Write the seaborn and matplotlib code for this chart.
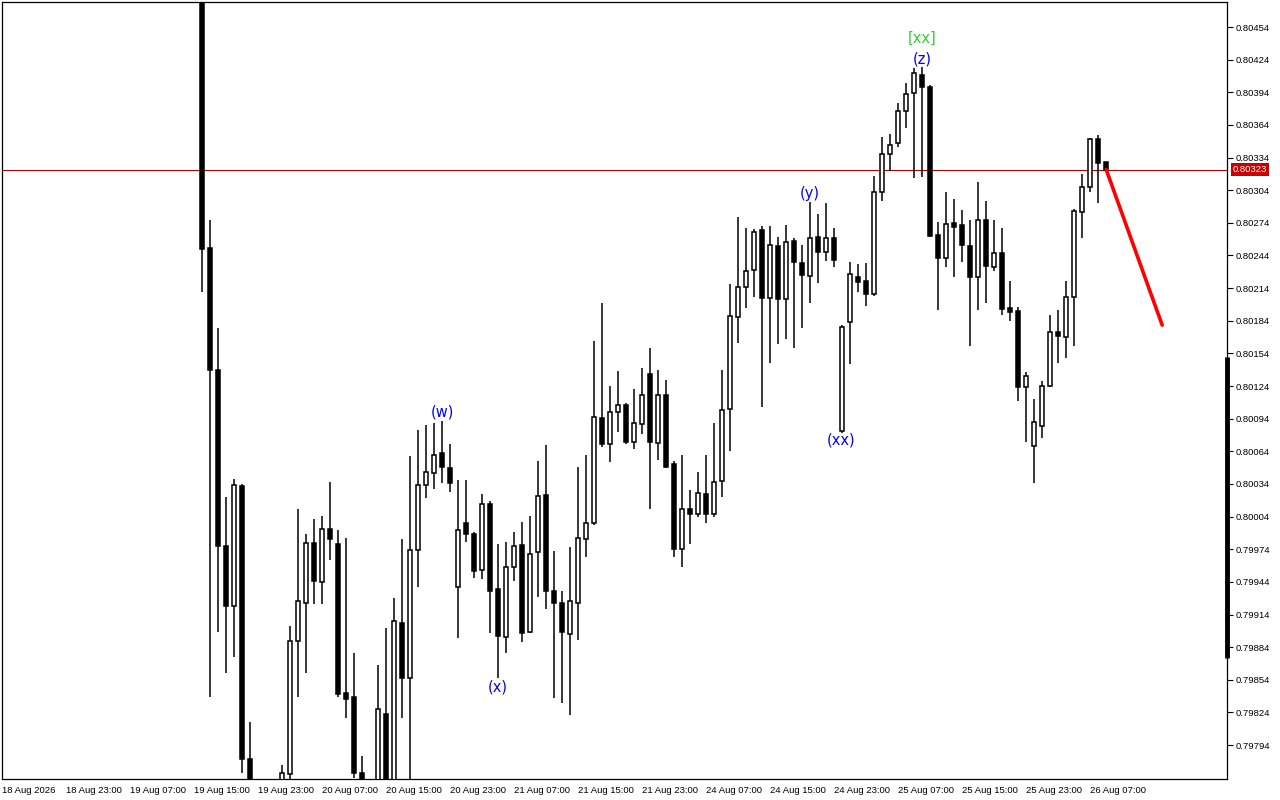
import matplotlib
matplotlib.use("Agg")
import matplotlib.pyplot as plt
import matplotlib.transforms as mtransforms
import numpy as np
import pandas as pd
import seaborn as sns

# hourly bars, index 0 = 18 Aug 2026 15:00 (earlier bars are above the visible range)
first_bar = 25
opens = [0.80520, 0.80251, 0.80139, 0.79977, 0.79922, 0.80032, 0.79781, 0.79720, 0.79700, 0.79725,
         0.79740, 0.79767, 0.79890, 0.79925, 0.79980, 0.79944, 0.79993, 0.79979, 0.79842, 0.79838,
         0.79768, 0.79745, 0.79735, 0.79823, 0.79750, 0.79906, 0.79856, 0.79973, 0.80033, 0.80044,
         0.80062, 0.80049, 0.79939, 0.79998, 0.79988, 0.79955, 0.80016, 0.79937, 0.79893, 0.79958,
         0.79978, 0.79898, 0.79971, 0.80024, 0.79936, 0.79925, 0.79896, 0.79925, 0.79983, 0.79998,
         0.80095, 0.80071, 0.80100, 0.80107, 0.80073, 0.80089, 0.80135, 0.80072, 0.80116, 0.80052,
         0.79974, 0.80011, 0.80006, 0.80025, 0.80006, 0.80037, 0.80103, 0.80187, 0.80215, 0.80231,
         0.80267, 0.80205, 0.80253, 0.80204, 0.80257, 0.80237, 0.80225, 0.80261, 0.80247, 0.80260,
         0.80083, 0.80183, 0.80224, 0.80221, 0.80209, 0.80302, 0.80337, 0.80347, 0.80377, 0.80393,
         0.80410, 0.80399, 0.80263, 0.80242, 0.80274, 0.80272, 0.80253, 0.80224, 0.80277, 0.80233,
         0.80246, 0.80196, 0.80193, 0.80123, 0.80069, 0.80087, 0.80124, 0.80174, 0.80169, 0.80206,
         0.80284, 0.80307, 0.80351, 0.80330]
highs = [0.80530, 0.80277, 0.80177, 0.80022, 0.80039, 0.80034, 0.79815, 0.79745, 0.79740, 0.79755,
         0.79776, 0.79903, 0.80011, 0.79988, 0.80002, 0.80005, 0.80036, 0.79992, 0.79984, 0.79879,
         0.79784, 0.79758, 0.79868, 0.79902, 0.79929, 0.79983, 0.80060, 0.80084, 0.80088, 0.80090,
         0.80092, 0.80071, 0.80038, 0.80038, 0.79990, 0.80025, 0.80018, 0.79979, 0.79981, 0.79990,
         0.79999, 0.80005, 0.80055, 0.80070, 0.79972, 0.79936, 0.79976, 0.80050, 0.80061, 0.80165,
         0.80200, 0.80124, 0.80138, 0.80108, 0.80121, 0.80141, 0.80159, 0.80139, 0.80130, 0.80055,
         0.80061, 0.80028, 0.80045, 0.80061, 0.80090, 0.80139, 0.80218, 0.80279, 0.80269, 0.80268,
         0.80271, 0.80271, 0.80261, 0.80272, 0.80260, 0.80254, 0.80293, 0.80282, 0.80292, 0.80269,
         0.80180, 0.80238, 0.80236, 0.80237, 0.80317, 0.80353, 0.80356, 0.80384, 0.80403, 0.80416,
         0.80417, 0.80401, 0.80275, 0.80302, 0.80296, 0.80286, 0.80277, 0.80312, 0.80294, 0.80277,
         0.80269, 0.80221, 0.80197, 0.80137, 0.80112, 0.80129, 0.80189, 0.80194, 0.80221, 0.80287,
         0.80319, 0.80352, 0.80355, 0.80330]
lows = [0.80210, 0.79838, 0.79898, 0.79860, 0.79875, 0.79768, 0.79700, 0.79680, 0.79690, 0.79705,
        0.79730, 0.79755, 0.79838, 0.79860, 0.79924, 0.79924, 0.79964, 0.79838, 0.79819, 0.79764,
        0.79730, 0.79715, 0.79725, 0.79740, 0.79740, 0.79819, 0.79763, 0.79939, 0.80021, 0.80029,
        0.80035, 0.80027, 0.79892, 0.79981, 0.79948, 0.79947, 0.79897, 0.79856, 0.79879, 0.79945,
        0.79889, 0.79897, 0.79930, 0.79919, 0.79837, 0.79833, 0.79822, 0.79891, 0.79967, 0.79996,
        0.80068, 0.80054, 0.80082, 0.80071, 0.80066, 0.80080, 0.80011, 0.80056, 0.80049, 0.79967,
        0.79958, 0.79979, 0.80004, 0.79998, 0.80004, 0.80022, 0.80064, 0.80164, 0.80196, 0.80206,
        0.80105, 0.80145, 0.80163, 0.80167, 0.80159, 0.80177, 0.80200, 0.80219, 0.80239, 0.80233,
        0.80081, 0.80144, 0.80210, 0.80198, 0.80207, 0.80294, 0.80322, 0.80344, 0.80361, 0.80315,
        0.80316, 0.80261, 0.80194, 0.80233, 0.80224, 0.80238, 0.80161, 0.80194, 0.80200, 0.80230,
        0.80189, 0.80184, 0.80110, 0.80073, 0.80035, 0.80076, 0.80123, 0.80145, 0.80150, 0.80161,
        0.80260, 0.80302, 0.80292, 0.80323]
closes = [0.80250, 0.80139, 0.79977, 0.79922, 0.80033, 0.79781, 0.79720, 0.79700, 0.79725, 0.79740,
          0.79768, 0.79890, 0.79926, 0.79980, 0.79945, 0.79993, 0.79983, 0.79841, 0.79836, 0.79768,
          0.79745, 0.79735, 0.79827, 0.79750, 0.79908, 0.79856, 0.79973, 0.80033, 0.80045, 0.80061,
          0.80050, 0.80035, 0.79992, 0.79988, 0.79954, 0.80016, 0.79936, 0.79894, 0.79958, 0.79977,
          0.79897, 0.79970, 0.80023, 0.79936, 0.79925, 0.79898, 0.79926, 0.79984, 0.79998, 0.80096,
          0.80071, 0.80100, 0.80107, 0.80073, 0.80090, 0.80116, 0.80073, 0.80116, 0.80050, 0.79974,
          0.80011, 0.80006, 0.80026, 0.80006, 0.80036, 0.80102, 0.80188, 0.80215, 0.80230, 0.80266,
          0.80205, 0.80254, 0.80204, 0.80256, 0.80238, 0.80226, 0.80260, 0.80247, 0.80260, 0.80240,
          0.80178, 0.80227, 0.80220, 0.80209, 0.80302, 0.80337, 0.80346, 0.80377, 0.80392, 0.80412,
          0.80399, 0.80262, 0.80242, 0.80273, 0.80270, 0.80254, 0.80224, 0.80277, 0.80234, 0.80246,
          0.80195, 0.80192, 0.80123, 0.80133, 0.80091, 0.80124, 0.80174, 0.80170, 0.80206, 0.80285,
          0.80307, 0.80351, 0.80329, 0.80323]

time_ticks = list(range(0, 137, 8))
time_labels = ["18 Aug 2026", "18 Aug 23:00", "19 Aug 07:00", "19 Aug 15:00", "19 Aug 23:00",
               "20 Aug 07:00", "20 Aug 15:00", "20 Aug 23:00", "21 Aug 07:00", "21 Aug 15:00",
               "21 Aug 23:00", "24 Aug 07:00", "24 Aug 15:00", "24 Aug 23:00", "25 Aug 07:00",
               "25 Aug 15:00", "25 Aug 23:00", "26 Aug 07:00"]
price_ticks = [round(0.80454 - 0.0003 * k, 5) for k in range(23)]

# wave labels: (text, bar, price, colour)
wave_labels = [("(w)", 55, 0.80100, "#0000ff"), ("(x)", 61.9, 0.79847, "#0000ff"),
               ("(y)", 101, 0.80301, "#0000ff"), ("(xx)", 104.9, 0.80074, "#0000ff"),
               ("(z)", 115, 0.80425, "#0000ff"), ("[xx]", 115, 0.80444, "#33cc33")]

forecast_x = [138, 145]
forecast_y = [0.80323, 0.80180]

scroll_range = [0.79874, 0.80151]

df = pd.DataFrame({"o": opens, "h": highs, "l": lows, "c": closes})
df["x"] = np.arange(first_bar, first_bar + len(df))

sns.set_style("white")
plt.rcParams["font.family"] = ["DejaVu Sans"]

fig = plt.figure(figsize=(12.8, 8), dpi=100)
ax = fig.add_axes([2 / 1280, 21 / 800, 1225 / 1280, 777 / 800])

# wicks then bodies
ax.vlines(df["x"], df["l"], df["h"], color="black", linewidth=1.1, zorder=2)
body_bottom = np.minimum(df["o"], df["c"])
body_height = np.abs(df["c"] - df["o"])
body_color = np.where(df["c"] >= df["o"], "white", "black")
ax.bar(df["x"], body_height, bottom=body_bottom, width=0.55, color=body_color,
       edgecolor="black", linewidth=1.1, zorder=3)

# current price line
last = closes[-1]
ax.axhline(last, color="#b40000", linewidth=0.8, zorder=1)

# forecast line
sns.lineplot(x=forecast_x, y=forecast_y, ax=ax, color="#ff0000", linewidth=2.6, zorder=4)

for txt, bx, py, col in wave_labels:
    ax.text(bx, py, txt, color=col, fontsize=10.5, ha="center", va="center", zorder=5)

ax.set_xlim(0, 153.1)
ax.set_ylim(0.797628, 0.80477)

tick_font = {"family": "Liberation Sans", "size": 6.8}

ax.set_xticks(time_ticks)
ax.set_xticklabels(time_labels, fontdict=tick_font)
for lbl in ax.get_xticklabels():
    lbl.set_horizontalalignment("left")
ax.tick_params(axis="x", direction="out", length=4, width=0.8, pad=1, colors="black")

ax.yaxis.tick_right()
ax.set_yticks(price_ticks)
ax.set_yticklabels([f"{p:.5f}" for p in price_ticks], fontdict=tick_font)
ax.tick_params(axis="y", direction="out", length=4, width=0.8, pad=2, colors="black")

for s in ax.spines.values():
    s.set_color("black")
    s.set_linewidth(0.9)

# price tag on the axis
trans = mtransforms.blended_transform_factory(ax.transAxes, ax.transData)
ax.annotate(f"{last:.5f}", xy=(1.0, last), xycoords=trans, xytext=(4, 0),
            textcoords="offset points", family="Liberation Sans", fontsize=6.8, color="white",
            ha="left", va="center",
            bbox=dict(boxstyle="square,pad=0.2", fc="#c80000", ec="none"), annotation_clip=False)

# scroll marker on the price scale
ax.plot([1.0, 1.0], scroll_range, transform=trans, color="black", linewidth=3.5,
        solid_capstyle="butt", clip_on=False, zorder=6)

fig.savefig("out.png", dpi=100)
plt.close(fig)
